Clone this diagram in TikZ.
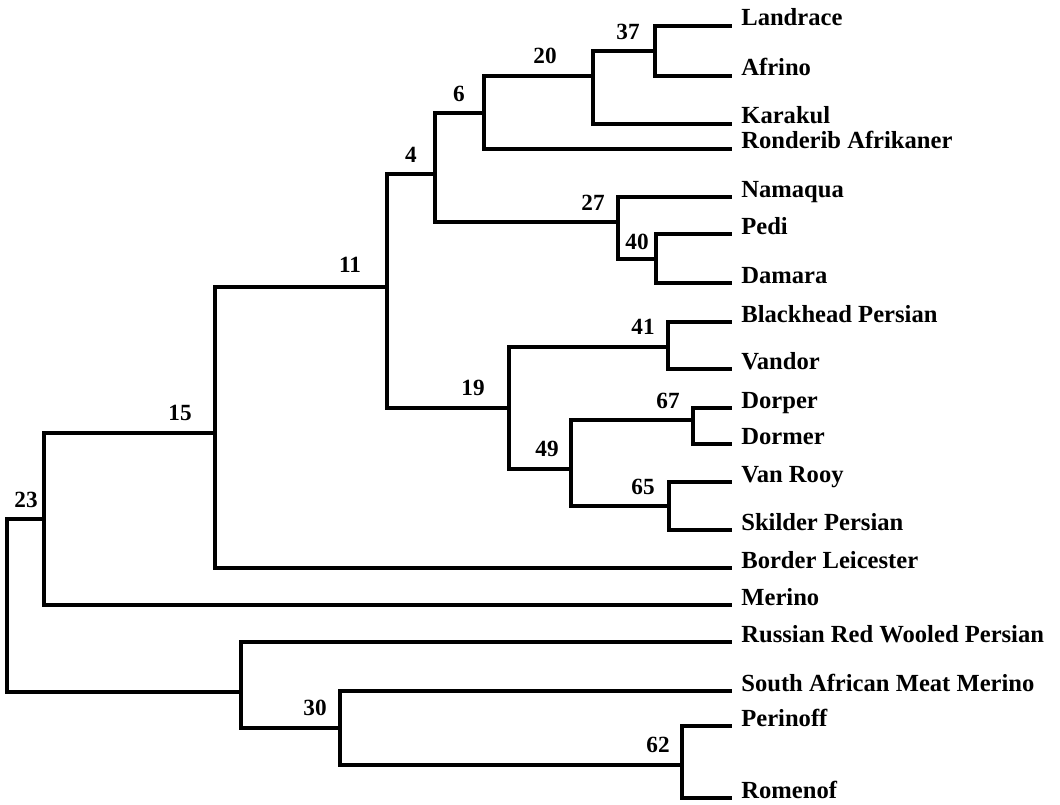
\documentclass[tikz,border=0pt]{standalone}
\usepackage{fontspec}
\setmainfont{Liberation Serif}
\usepackage{tikz}
\usetikzlibrary{positioning}

\begin{document}
\begin{tikzpicture}[
    x=0.02cm, y=-0.02cm,
    branch/.style={
      line width=2.3pt, black, line join=miter
    },
    breed/.style={
      anchor=base west, inner xsep=0.18cm, inner ysep=0pt,
      font=\fontsize{14}{16}\selectfont\bfseries
    },
    support/.style={
      inner sep=0pt, font=\fontsize{13.2}{15}\selectfont\bfseries
    }
  ]
  \useasboundingbox (0,0) rectangle (1060,804);

  % --- Breeds (leaf tips) ---
  \node[breed] (landrace) at (732,26)  {Landrace};
  \node[breed] (afrino)   at (732,76)  {Afrino};
  \node[breed] (karakul)  at (732,124) {Karakul};
  \node[breed] (ronderib) at (732,149) {Ronderib Afrikaner};
  \node[breed] (namaqua)  at (732,197) {Namaqua};
  \node[breed] (pedi)     at (732,234) {Pedi};
  \node[breed] (damara)   at (732,283) {Damara};
  \node[breed] (blackhead) at (732,322) {Blackhead Persian};
  \node[breed] (vandor)   at (732,369) {Vandor};
  \node[breed] (dorper)   at (732,408) {Dorper};
  \node[breed] (dormer)   at (732,444) {Dormer};
  \node[breed] (vanrooy)  at (732,482) {Van Rooy};
  \node[breed] (skilder)  at (732,530) {Skilder Persian};
  \node[breed] (border)   at (732,568) {Border Leicester};
  \node[breed] (merino)   at (732,605) {Merino};
  \node[breed] (russian)  at (732,642) {Russian Red Wooled Persian};
  \node[breed] (samm)     at (732,691) {South African Meat Merino};
  \node[breed] (perinoff) at (732,726) {Perinoff};
  \node[breed] (romenof)  at (732,798) {Romenof};

  % --- Clusters ---
  \coordinate (n37) at (655,51);
  \coordinate (n20) at (593,76);
  \coordinate (n6)  at (484,113);
  \coordinate (n40) at (656,259);
  \coordinate (n27) at (618,222);
  \coordinate (n4)  at (435,174);
  \coordinate (n41) at (668,347);
  \coordinate (n67) at (693,420);
  \coordinate (n65) at (669,506);
  \coordinate (n49) at (571,469);
  \coordinate (n19) at (509,408);
  \coordinate (n11) at (387,287);
  \coordinate (n15) at (215,433);
  \coordinate (n23) at (44,519);
  \coordinate (n62) at (682,765);
  \coordinate (n30) at (340,728);
  \coordinate (nrr) at (241,692);
  \coordinate (root) at (7,605);

  % --- Branches ---
  \draw[branch] (n37) |- (landrace.base west);
  \draw[branch] (n37) |- (afrino.base west);
  \draw[branch] (n20) |- (n37);
  \draw[branch] (n20) |- (karakul.base west);
  \draw[branch] (n6) |- (n20);
  \draw[branch] (n6) |- (ronderib.base west);
  \draw[branch] (n40) |- (pedi.base west);
  \draw[branch] (n40) |- (damara.base west);
  \draw[branch] (n27) |- (namaqua.base west);
  \draw[branch] (n27) |- (n40);
  \draw[branch] (n4) |- (n6);
  \draw[branch] (n4) |- (n27);
  \draw[branch] (n41) |- (blackhead.base west);
  \draw[branch] (n41) |- (vandor.base west);
  \draw[branch] (n67) |- (dorper.base west);
  \draw[branch] (n67) |- (dormer.base west);
  \draw[branch] (n65) |- (vanrooy.base west);
  \draw[branch] (n65) |- (skilder.base west);
  \draw[branch] (n49) |- (n67);
  \draw[branch] (n49) |- (n65);
  \draw[branch] (n19) |- (n41);
  \draw[branch] (n19) |- (n49);
  \draw[branch] (n11) |- (n4);
  \draw[branch] (n11) |- (n19);
  \draw[branch] (n15) |- (n11);
  \draw[branch] (n15) |- (border.base west);
  \draw[branch] (n23) |- (n15);
  \draw[branch] (n23) |- (merino.base west);
  \draw[branch] (n62) |- (perinoff.base west);
  \draw[branch] (n62) |- (romenof.base west);
  \draw[branch] (n30) |- (samm.base west);
  \draw[branch] (n30) |- (n62);
  \draw[branch] (nrr) |- (russian.base west);
  \draw[branch] (nrr) |- (n30);
  \draw[branch] (root) |- (n23);
  \draw[branch] (root) |- (nrr);

  % --- Bootstrap values ---
  \node[support] (s37) at (628,32)  {37};
  \node[support] (s20) at (545,56)  {20};
  \node[support] (s6)  at (459,94)  {6};
  \node[support] (s4)  at (411,155) {4};
  \node[support] (s27) at (593,203) {27};
  \node[support] (s40) at (637,242) {40};
  \node[support] (s11) at (350,265) {11};
  \node[support] (s41) at (643,327) {41};
  \node[support] (s19) at (473,388) {19};
  \node[support] (s67) at (668,401) {67};
  \node[support] (s49) at (547,449) {49};
  \node[support] (s65) at (643,487) {65};
  \node[support] (s62) at (658,745) {62};
  \node[support] (s15) at (180,413) {15};
  \node[support] (s23) at (26,500)  {23};
  \node[support] (s30) at (315,708) {30};
\end{tikzpicture}
\end{document}
